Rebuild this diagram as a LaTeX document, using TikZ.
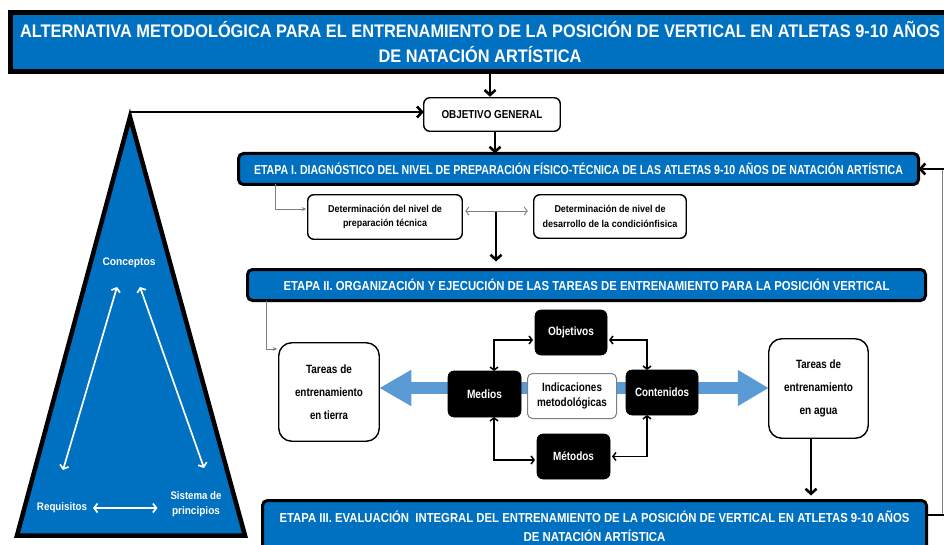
\documentclass[tikz,border=0pt]{standalone}
\usepackage{fontspec}
\setmainfont{Liberation Sans}
\usetikzlibrary{arrows.meta,backgrounds}
\definecolor{mblue}{HTML}{0070C0}
\definecolor{lblue}{HTML}{5B9BD5}
\definecolor{lgray}{HTML}{7F7F7F}
\newlength\fitlen
\newcommand\fitw[2]{\settowidth{\fitlen}{#2}\pgfmathsetmacro\fitratio{#1/\fitlen}\scalebox{\fitratio}[1]{#2}}
\tikzset{
  every node/.style={inner sep=0pt, outer sep=0pt},
  titlebox/.style={draw=black, line width=5pt, fill=mblue, text=white, align=center,
    font=\bfseries\fontsize{18.2}{24.5}\selectfont},
  bluebox/.style={draw=black, line width=3pt, fill=mblue, rounded corners=5pt, text=white, align=center,
    font=\bfseries\fontsize{13}{19}\selectfont},
  wbox/.style={draw=black, line width=1.4pt, fill=white, rounded corners=6pt, align=center,
    font=\bfseries\fontsize{10}{14.5}\selectfont},
  tbox/.style={draw=black, line width=1.4pt, fill=white, rounded corners=13pt, align=center,
    font=\bfseries\fontsize{12}{23}\selectfont},
  kbox/.style={draw=black, line width=0.6pt, fill=black, rounded corners=6pt, text=white, align=center,
    font=\bfseries\fontsize{12}{14}\selectfont},
  ibox/.style={draw=lgray, line width=1pt, fill=white, rounded corners=5pt, align=center,
    font=\bfseries\fontsize{12}{15}\selectfont},
  tlabel/.style={text=white, align=center, font=\bfseries\fontsize{11}{15}\selectfont},
  thickarr/.style={draw=black, line width=2.6pt, -{Straight Barb[length=5pt,width=11pt]}},
  thinarr/.style={draw=lgray, line width=0.9pt, -{Stealth[length=4.5pt,width=4pt]}},
  thindbl/.style={draw=lgray, line width=0.9pt, {Straight Barb[length=3pt,width=8pt]}-{Straight Barb[length=3pt,width=8pt]}},
  kconn/.style={draw=black, line width=1.5pt, {Straight Barb[length=3pt,width=8pt]}-{Straight Barb[length=3pt,width=8pt]}},
  wconn/.style={draw=white, line width=1.7pt, {Straight Barb[length=3.5pt,width=9pt]}-{Straight Barb[length=3.5pt,width=9pt]}},
  bigarr/.style={draw=lblue, line width=12pt, {Triangle[length=32pt,width=34pt]}-{Triangle[length=31pt,width=34pt]}},
}
\begin{document}
\begin{tikzpicture}[x=1pt,y=-1pt]
\useasboundingbox (0,0) rectangle (944,545);

% pyramid
\draw[line width=4.5pt, fill=mblue] (130,117) -- (17,535.5) -- (245,535.5) -- cycle;
\coordinate (apex) at (130,112);
\node[tlabel] (conc) at (129,263) {\fitw{53pt}{Conceptos}};
\node[tlabel] (req) at (62,508) {\fitw{50pt}{Requisitos}};
\node[tlabel] (sis) at (196,504.5) {\fitw{51pt}{Sistema de}\\\fitw{48pt}{principios}};
\coordinate (c1) at (117,287);
\coordinate (c2) at (63,470);
\coordinate (c3) at (140,287);
\coordinate (c4) at (204,468);
\draw[wconn] (c1) -- (c2);
\draw[wconn] (c3) -- (c4);
\draw[wconn, shorten <=6pt, shorten >=13pt] (req.east) -- (sis.west |- req.east);

% title
\node[titlebox, minimum width=939pt, minimum height=59pt] (title) at (480,42)
  {\fitw{920pt}{ALTERNATIVA METODOLÓGICA PARA EL ENTRENAMIENTO DE LA POSICIÓN DE VERTICAL EN ATLETAS 9-10 AÑOS}\\
   \fitw{203pt}{DE NATACIÓN ARTÍSTICA}};

% objetivo general
\node[wbox, minimum width=136.5pt, minimum height=33.5pt, font=\bfseries\fontsize{11.5}{14}\selectfont] (obj) at (492,114.5)
  {\fitw{101pt}{OBJETIVO GENERAL}};

% etapas
\node[bluebox, minimum width=680pt, minimum height=31pt] (e1) at (578.5,169)
  {\fitw{649pt}{ETAPA I. DIAGNÓSTICO DEL NIVEL DE PREPARACIÓN FÍSICO-TÉCNICA DE LAS ATLETAS 9-10 AÑOS DE NATACIÓN ARTÍSTICA}};
\node[bluebox, minimum width=678pt, minimum height=31pt] (e2) at (586.5,285)
  {\fitw{606pt}{ETAPA II. ORGANIZACIÓN Y EJECUCIÓN DE LAS TAREAS DE ENTRENAMIENTO PARA LA POSICIÓN VERTICAL}};
\node[bluebox, minimum width=664pt, minimum height=51pt] (e3) at (594.5,526)
  {\fitw{630pt}{ETAPA III. EVALUACIÓN\ \ INTEGRAL DEL ENTRENAMIENTO DE LA POSICIÓN DE VERTICAL EN ATLETAS 9-10 AÑOS}\\
   \fitw{142pt}{DE NATACIÓN ARTÍSTICA}};

% etapa I sub boxes
\node[wbox, minimum width=154.5pt, minimum height=44.5pt] (b1) at (385,217)
  {\fitw{114pt}{Determinación del nivel de}\\\fitw{84pt}{preparación técnica}};
\node[wbox, minimum width=152.5pt, minimum height=43.5pt] (b2) at (610,216.5)
  {\fitw{111pt}{Determinación de nivel de}\\\fitw{135pt}{desarrollo de la condiciónfisica}};

% etapa II content
\node[tbox, minimum width=100.5pt, minimum height=98.5pt] (tie) at (329,392)
  {\fitw{46pt}{Tareas de}\\\fitw{68pt}{entrenamiento}\\\fitw{38pt}{en tierra}};
\node[tbox, minimum width=99.5pt, minimum height=99.5pt] (agu) at (818.5,388.5)
  {\fitw{45pt}{Tareas de}\\\fitw{69pt}{entrenamiento}\\\fitw{38pt}{en agua}};
\node[kbox, minimum width=73pt, minimum height=46pt] (med) at (484.5,394) {\fitw{35pt}{Medios}};
\node[ibox, minimum width=89pt, minimum height=45pt] (ind) at (572,396)
  {\fitw{60pt}{Indicaciones}\\\fitw{70pt}{metodológicas}};
\node[kbox, minimum width=72pt, minimum height=45pt] (con) at (662,392.5) {\fitw{54pt}{Contenidos}};
\node[kbox, minimum width=72pt, minimum height=45pt] (obv) at (571,332.5) {\fitw{46pt}{Objetivos}};
\node[kbox, minimum width=73pt, minimum height=45pt] (met) at (573.5,456.5) {\fitw{41pt}{Métodos}};

% big blue arrow behind
\begin{scope}[on background layer]
\draw[bigarr] (tie.east |- 0,388) -- (agu.west |- 0,388);
\end{scope}

% connectors
\draw[thickarr, shorten >=1pt] (title.south -| 490,0) -- (obj.north -| 490,0);
\draw[thickarr] (apex) -- (obj.west |- apex);
\draw[thickarr] (obj.south -| 495,0) -- (e1.north -| 495,0);
\draw[thinarr, shorten >=1.5pt] (e1.south -| 275,0) |- ([yshift=8pt]b1.west);
\draw[thindbl, shorten <=3pt, shorten >=6pt] ([yshift=6pt]b1.east) -- ([yshift=5.5pt]b2.west);
\coordinate (d1) at (496,212);
\draw[thickarr, shorten >=8pt] (d1) -- (d1 |- e2.north);
\draw[thinarr, shorten >=1.5pt] (e2.south -| 266,0) |- ([yshift=43pt]tie.west);
\draw[kconn, shorten <=2pt] ([yshift=-7.5pt]obv.west) -| ([xshift=9.5pt]med.north);
\draw[kconn, shorten <=2pt] ([yshift=-7.5pt]obv.east) -| ([xshift=-15pt]con.north);
\draw[kconn, shorten >=2pt] ([xshift=9.5pt]med.south) |- ([yshift=-3.5pt]met.west);
\draw[kconn, shorten >=2pt] ([xshift=-15pt]con.south) |- (met.east);
\draw[thickarr, shorten >=5pt] (agu.south -| 811,0) -- (e3.north -| 811,0);

% feedback line
\coordinate (r1) at (942,169);
\coordinate (r2) at (942,515);
\draw[draw=lgray, line width=1pt] (r2) -- (r1);
\draw[draw=black, line width=2.6pt] (e3.east |- r2) -- (r2 -| 946,0);
\draw[thickarr] (r1 -| 946,0) -- (e1.east);
\end{tikzpicture}
\end{document}
